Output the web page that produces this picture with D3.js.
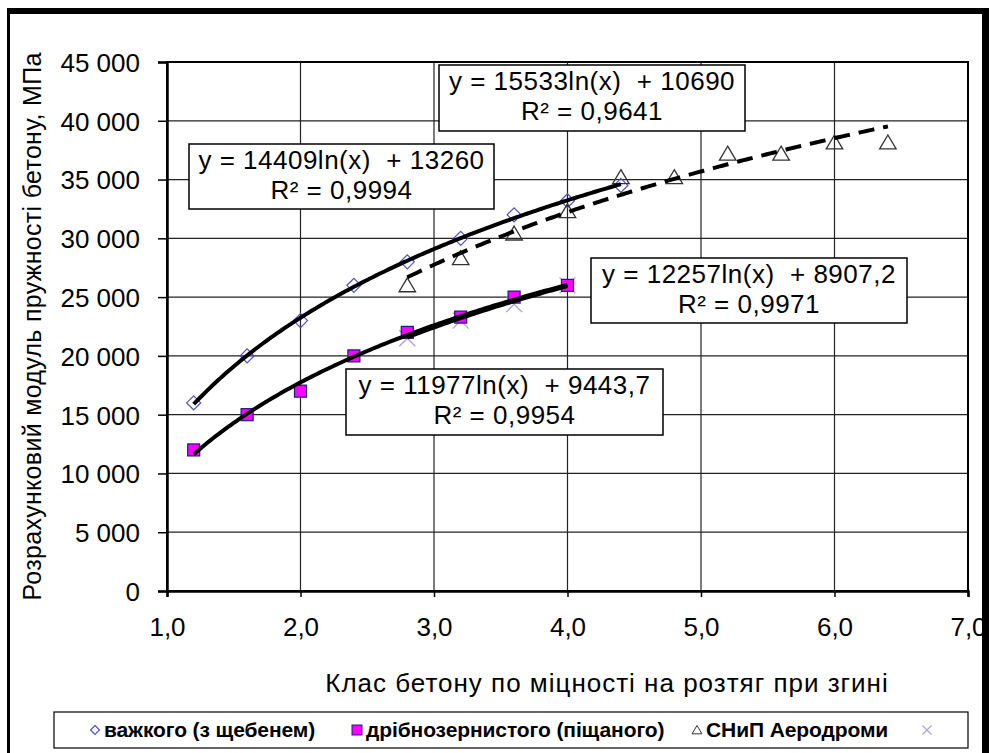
<!DOCTYPE html>
<html>
<head>
<meta charset="utf-8">
<script src="https://cdn.jsdelivr.net/npm/d3@7"></script>
<style>
  body { margin: 0; background: #fff; }
  svg { display: block; font-family: "Liberation Sans", Arial, sans-serif; }
</style>
</head>
<body>
<script>
// --- data ---
const xHeavy = [1.2, 1.6, 2.0, 2.4, 2.8, 3.2, 3.6, 4.0, 4.4];
const yHeavy = [16000, 20000, 23000, 26000, 28000, 30000, 32000, 33200, 34500];

const xFine = [1.2, 1.6, 2.0, 2.4, 2.8, 3.2, 3.6, 4.0];
const yFine = [12000, 15000, 17000, 20000, 22000, 23300, 25000, 26000];

const xSnip = [2.8, 3.2, 3.6, 4.0, 4.4, 4.8, 5.2, 5.6, 6.0, 6.4];
const ySnip = [26000, 28300, 30400, 32300, 35200, 35200, 37200, 37200, 38150, 38150];

const xCross = [2.8, 3.2, 3.6, 4.0];
const yCross = [21500, 23000, 24400, 26000];

const seriesNames = ["важкого (з щебенем)", "дрібнозернистого (піщаного)", "СНиП Аеродроми", ""];

// logarithmic trendlines y = a*ln(x) + b, as printed on the chart
const fitA = [14409, 11977, 15533, 12257];
const fitB = [13260, 9443.7, 10690, 8907.2];
const fitFrom = [1.2, 1.2, 2.8, 2.8];
const fitTo = [4.4, 4.0, 6.4, 4.0];
const fitEq = ["y = 14409ln(x)  + 13260", "y = 11977ln(x)  + 9443,7",
               "y = 15533ln(x)  + 10690", "y = 12257ln(x)  + 8907,2"];
const fitR2 = ["R² = 0,9994", "R² = 0,9954", "R² = 0,9641", "R² = 0,9971"];

const xTicks = [1, 2, 3, 4, 5, 6, 7];
const yTicks = d3.range(0, 45001, 5000);

const xTitle = "Клас бетону по міцності на розтяг при згині";
const yTitle = "Розрахунковий модуль пружності бетону, МПа";

// --- layout ---
const W = 989, H = 753;
const plot = { left: 167, right: 968, top: 62, bottom: 591 };
// equation boxes [x, y, w, h]
const boxPos = [[189, 144, 305, 65], [346, 369, 317, 66], [439, 65, 306, 66], [591, 258, 316, 65]];
const legendPos = { x: 54, y: 712, w: 914, h: 36 };
const legendItems = [95, 357, 697, 927];

const loc = d3.formatLocale({ decimal: ",", thousands: "\u00a0", grouping: [3], currency: ["", ""] });
const fmtY = loc.format(",.0f");
const fmtX = loc.format(".1f");

const svg = d3.select("body").append("svg")
  .attr("width", W).attr("height", H);

svg.append("rect").attr("width", W).attr("height", H).attr("fill", "#fff");

const x = d3.scaleLinear().domain([1, 7]).range([plot.left, plot.right]);
const y = d3.scaleLinear().domain([0, 45000]).range([plot.bottom, plot.top]);

// gridlines
const grid = svg.append("g");
grid.selectAll(".gy").data(yTicks).enter().append("line")
  .attr("x1", plot.left).attr("x2", plot.right)
  .attr("y1", d => y(d)).attr("y2", d => y(d))
  .attr("stroke", "#222").attr("stroke-width", 1.2);
grid.selectAll(".gx").data(xTicks).enter().append("line")
  .attr("y1", plot.top).attr("y2", plot.bottom)
  .attr("x1", d => x(d)).attr("x2", d => x(d))
  .attr("stroke", "#222").attr("stroke-width", 1.2);

svg.append("rect")
  .attr("x", plot.left).attr("y", plot.top)
  .attr("width", plot.right - plot.left).attr("height", plot.bottom - plot.top)
  .attr("fill", "none").attr("stroke", "#000").attr("stroke-width", 2);

// axes
const yAxis = svg.append("g").attr("transform", `translate(${plot.left},0)`)
  .call(d3.axisLeft(y).tickValues(yTicks).tickFormat(fmtY).tickSize(9).tickPadding(18));
const xAxis = svg.append("g").attr("transform", `translate(0,${plot.bottom})`)
  .call(d3.axisBottom(x).tickValues(xTicks).tickFormat(fmtX).tickSize(6).tickPadding(21));
[yAxis, xAxis].forEach(g => {
  g.select(".domain").attr("stroke", "#000").attr("stroke-width", 2.5);
  g.selectAll(".tick line").attr("stroke", "#000").attr("stroke-width", 1.5);
  g.selectAll("text").attr("font-family", "Liberation Sans, Arial, sans-serif")
    .attr("font-size", 26).attr("fill", "#000");
});
yAxis.selectAll("text").attr("dy", "0.36em");

// axis titles
svg.append("text")
  .attr("x", 607).attr("y", 692)
  .attr("text-anchor", "middle").attr("font-size", 26).attr("letter-spacing", 1)
  .text(xTitle);
svg.append("text")
  .attr("transform", `translate(41,${(plot.top + plot.bottom) / 2}) rotate(-90)`)
  .attr("text-anchor", "middle").attr("font-size", 25).attr("letter-spacing", 0.3)
  .text(yTitle);

// markers
const diamond = s => `M0,${-s}L${s},0L0,${s}L${-s},0Z`;
const triangle = s => `M0,${-s}L${s * 1.1},${s * 0.85}L${-s * 1.1},${s * 0.85}Z`;
const cross = s => `M${-s},${-s}L${s},${s}M${-s},${s}L${s},${-s}`;

const pts = (xs, ys) => xs.map((v, i) => [v, ys[i]]);
const mk = svg.append("g");

mk.selectAll(".cr").data(pts(xCross, yCross)).enter().append("path")
  .attr("d", cross(8)).attr("transform", d => `translate(${x(d[0])},${y(d[1])})`)
  .attr("fill", "none").attr("stroke", "#a7a2dc").attr("stroke-width", 1.3);

mk.selectAll(".dm").data(pts(xHeavy, yHeavy)).enter().append("path")
  .attr("d", diamond(7)).attr("transform", d => `translate(${x(d[0])},${y(d[1])})`)
  .attr("fill", "none").attr("stroke", "#5050c0").attr("stroke-width", 1.2);

mk.selectAll(".sq").data(pts(xFine, yFine)).enter().append("rect")
  .attr("x", d => x(d[0]) - 6).attr("y", d => y(d[1]) - 6)
  .attr("width", 12).attr("height", 12)
  .attr("fill", "#ff00ff").attr("stroke", "#1a1a80").attr("stroke-width", 1.2);

mk.selectAll(".tr").data(pts(xSnip, ySnip)).enter().append("path")
  .attr("d", triangle(7.5)).attr("transform", d => `translate(${x(d[0])},${y(d[1])})`)
  .attr("fill", "none").attr("stroke", "#333").attr("stroke-width", 1.3);

// trendlines
const line = d3.line().x(d => x(d[0])).y(d => y(d[1]));
const tl = svg.append("g");
fitA.forEach((a, i) => {
  const xs = d3.range(fitFrom[i], fitTo[i] + 1e-9, 0.02);
  tl.append("path")
    .datum(xs.map(v => [v, a * Math.log(v) + fitB[i]]))
    .attr("d", line)
    .attr("fill", "none").attr("stroke", "#000").attr("stroke-width", i === 3 ? 3 : 4)
    .attr("stroke-dasharray", i === 2 ? "16,9" : null);
});

// equation boxes
const boxes = svg.append("g");
boxPos.forEach((b, i) => {
  const g = boxes.append("g");
  g.append("rect").attr("x", b[0]).attr("y", b[1]).attr("width", b[2]).attr("height", b[3])
    .attr("fill", "#fff").attr("stroke", "#000").attr("stroke-width", 1.5);
  g.append("text").attr("x", b[0] + b[2] / 2).attr("y", b[1] + 25)
    .attr("text-anchor", "middle").attr("font-size", 26).attr("letter-spacing", 0.5)
    .style("white-space", "pre").text(fitEq[i]);
  g.append("text").attr("x", b[0] + b[2] / 2).attr("y", b[1] + 55)
    .attr("text-anchor", "middle").attr("font-size", 26).attr("letter-spacing", 0.5)
    .text(fitR2[i]);
});

// legend
const lg = svg.append("g");
lg.append("rect").attr("x", legendPos.x).attr("y", legendPos.y)
  .attr("width", legendPos.w).attr("height", legendPos.h)
  .attr("fill", "#fff").attr("stroke", "#000").attr("stroke-width", 1.2);
const ly = legendPos.y + legendPos.h / 2;
lg.append("path").attr("d", diamond(4.5)).attr("transform", `translate(${legendItems[0]},${ly})`)
  .attr("fill", "none").attr("stroke", "#5050c0").attr("stroke-width", 1.2);
lg.append("rect").attr("x", legendItems[1] - 5).attr("y", ly - 5).attr("width", 10).attr("height", 10)
  .attr("fill", "#ff00ff").attr("stroke", "#1a1a80").attr("stroke-width", 1);
lg.append("path").attr("d", triangle(4.5)).attr("transform", `translate(${legendItems[2]},${ly})`)
  .attr("fill", "none").attr("stroke", "#333").attr("stroke-width", 1);
lg.append("path").attr("d", cross(4.5)).attr("transform", `translate(${legendItems[3]},${ly})`)
  .attr("fill", "none").attr("stroke", "#a7a2dc").attr("stroke-width", 1.2);
seriesNames.forEach((n, i) => {
  if (!n) return;
  lg.append("text").attr("x", legendItems[i] + 9).attr("y", ly + 7)
    .attr("font-size", 21).attr("font-weight", "bold").attr("letter-spacing", -0.1)
    .text(n);
});

// outer chart border (thick top and right like the source)
const fr = svg.append("g").attr("fill", "#000");
fr.append("rect").attr("x", 7).attr("y", 8).attr("width", 3).attr("height", H - 8);
fr.append("rect").attr("x", 7).attr("y", 8).attr("width", W - 7).attr("height", 6);
fr.append("rect").attr("x", 982).attr("y", 8).attr("width", 7).attr("height", H - 8);
</script>
</body>
</html>
